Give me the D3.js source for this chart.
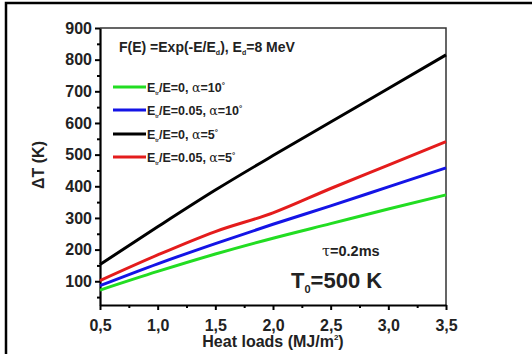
<!DOCTYPE html>
<html>
<head>
<meta charset="utf-8">
<script src="https://cdn.jsdelivr.net/npm/d3@7"></script>
<style>
  body { margin: 0; background: #fff; }
  text { font-family: "Liberation Sans", Arial, sans-serif; font-weight: bold; fill: #222; }
</style>
</head>
<body>
<svg id="chart" width="532" height="354"></svg>
<script>
  // ---- data ----
  const loads = [0.5, 1.0, 1.5, 2.0, 2.5, 3.0, 3.5];
  const green = [72, 131, 186, 236, 282, 328, 373];
  const blue  = [86, 155, 219, 280, 338, 398, 458];
  const black = [153, 272, 388, 497, 603, 709, 815];
  const red   = [102, 183, 257, 316, 393, 467, 541];

  const xTicks = [0.5, 1.0, 1.5, 2.0, 2.5, 3.0, 3.5];
  const yTicks = [100, 200, 300, 400, 500, 600, 700, 800, 900];

  const series = [
    { name: ["/E=0, ", "=10"],    vals: green, color: "#22dd22" },
    { name: ["/E=0.05, ", "=10"], vals: blue,  color: "#1414e6" },
    { name: ["/E=0, ", "=5"],     vals: black, color: "#000000" },
    { name: ["/E=0.05, ", "=5"],  vals: red,   color: "#e41c1c" }
  ];

  const svg = d3.select("#chart");
  const width = +svg.attr("width");
  const height = +svg.attr("height");

  // outer frame (only left and top edges are inside the picture)
  svg.append("path")
    .attr("d", `M6,${height}V3H${width}`)
    .attr("fill", "none").attr("stroke", "#000").attr("stroke-width", 2.5);

  const margin = { top: 28, right: 86, bottom: 49, left: 100 };
  const innerWidth = width - margin.left - margin.right;
  const innerHeight = height - margin.top - margin.bottom;

  const g = svg.append("g")
    .attr("transform", `translate(${margin.left}, ${margin.top})`);

  const x = d3.scaleLinear().domain([0.5, 3.5]).range([0, innerWidth]);
  const y = d3.scaleLinear().domain([25, 900]).range([innerHeight, 0]);

  // top / right frame of plot
  g.append("path")
    .attr("d", `M0,0H${innerWidth}V${innerHeight}`)
    .attr("fill", "none").attr("stroke", "#333").attr("stroke-width", 1.5);

  // minor ticks
  const xMinor = d3.range(0.75, 3.5, 0.5);
  const yMinor = d3.range(50, 900, 100);
  const mx = g.append("g")
    .attr("transform", `translate(0, ${innerHeight})`)
    .call(d3.axisBottom(x).tickValues(xMinor).tickSize(3));
  const my = g.append("g")
    .call(d3.axisLeft(y).tickValues(yMinor).tickSize(3));
  [mx, my].forEach(a => {
    a.select(".domain").remove();
    a.selectAll(".tick text").remove();
    a.selectAll("line").attr("stroke-width", 2);
  });

  // axes
  const xAxis = g.append("g")
    .attr("transform", `translate(0, ${innerHeight})`)
    .call(d3.axisBottom(x).tickValues(xTicks).tickSize(5).tickSizeOuter(0)
      .tickFormat(d => d3.format(".1f")(d).replace(".", ",")));
  const yAxis = g.append("g")
    .call(d3.axisLeft(y).tickValues(yTicks).tickSize(5).tickSizeOuter(0));

  [xAxis, yAxis].forEach(a => {
    a.select(".domain").attr("stroke-width", 2.2);
    a.selectAll(".tick line").attr("stroke-width", 2);
    a.selectAll(".tick text")
      .attr("font-size", 16).attr("font-family", "Liberation Sans, Arial, sans-serif")
      .attr("font-weight", "bold").attr("fill", "#222");
  });
  xAxis.selectAll(".tick text").attr("dy", "1.15em");
  yAxis.selectAll(".tick text").attr("x", -8);

  // lines
  const line = d3.line()
    .x((d, i) => x(loads[i]))
    .y(d => y(d))
    .curve(d3.curveMonotoneX);

  g.selectAll(".series")
    .data(series)
    .enter()
    .append("path")
    .attr("class", "series")
    .attr("d", d => line(d.vals))
    .attr("fill", "none")
    .attr("stroke", d => d.color)
    .attr("stroke-width", 3);

  // header
  const hdr = svg.append("text").attr("x", 119).attr("y", 52).attr("font-size", 14);
  hdr.append("tspan").text("F(E) =Exp(-E/E");
  hdr.append("tspan").text("d").attr("font-size", 7).attr("dy", 3);
  hdr.append("tspan").text("), E").attr("dy", -3);
  hdr.append("tspan").text("d").attr("font-size", 7).attr("dy", 3);
  hdr.append("tspan").text("=8 MeV").attr("dy", -3);

  // legend
  const legY = [87, 110, 134, 157];
  const leg = svg.selectAll(".leg")
    .data(series)
    .enter()
    .append("g")
    .attr("class", "leg")
    .attr("transform", (d, i) => `translate(113, ${legY[i]})`);

  leg.append("line")
    .attr("x1", 0).attr("x2", 33)
    .attr("stroke", d => d.color).attr("stroke-width", 3);

  const lt = leg.append("text").attr("x", 34).attr("y", 5).attr("font-size", 12.5);
  lt.append("tspan").text("E");
  lt.append("tspan").text("tr").attr("font-size", 5).attr("dy", 3);
  lt.append("tspan").text(d => d.name[0]).attr("dy", -3);
  lt.append("tspan").text("\u03b1").attr("font-family", "DejaVu Serif").attr("font-weight", "normal");
  lt.append("tspan").text(d => d.name[1]);
  lt.append("tspan").text("\u00b0").attr("font-size", 8).attr("dy", -4);

  // annotations
  const tau = svg.append("text").attr("x", 322).attr("y", 256).attr("font-size", 14.5);
  tau.append("tspan").text("\u03c4").attr("font-family", "DejaVu Serif").attr("font-weight", "normal");
  tau.append("tspan").text("=0.2ms");

  const t0 = svg.append("text").attr("x", 291).attr("y", 288).attr("font-size", 22);
  t0.append("tspan").text("T");
  t0.append("tspan").text("0").attr("font-size", 11).attr("dy", 5);
  t0.append("tspan").text("=500 K").attr("dy", -5);

  // axis titles
  const xt = svg.append("text")
    .attr("x", margin.left + innerWidth / 2).attr("y", 347)
    .attr("text-anchor", "middle").attr("font-size", 16);
  xt.append("tspan").text("Heat loads (MJ/m");
  xt.append("tspan").text("2").attr("font-size", 8).attr("dy", -7);
  xt.append("tspan").text(")").attr("dy", 7);

  svg.append("text")
    .attr("transform", "translate(44, 165) rotate(-90)")
    .attr("text-anchor", "middle").attr("font-size", 16)
    .text("\u0394T (K)");
</script>
</body>
</html>
